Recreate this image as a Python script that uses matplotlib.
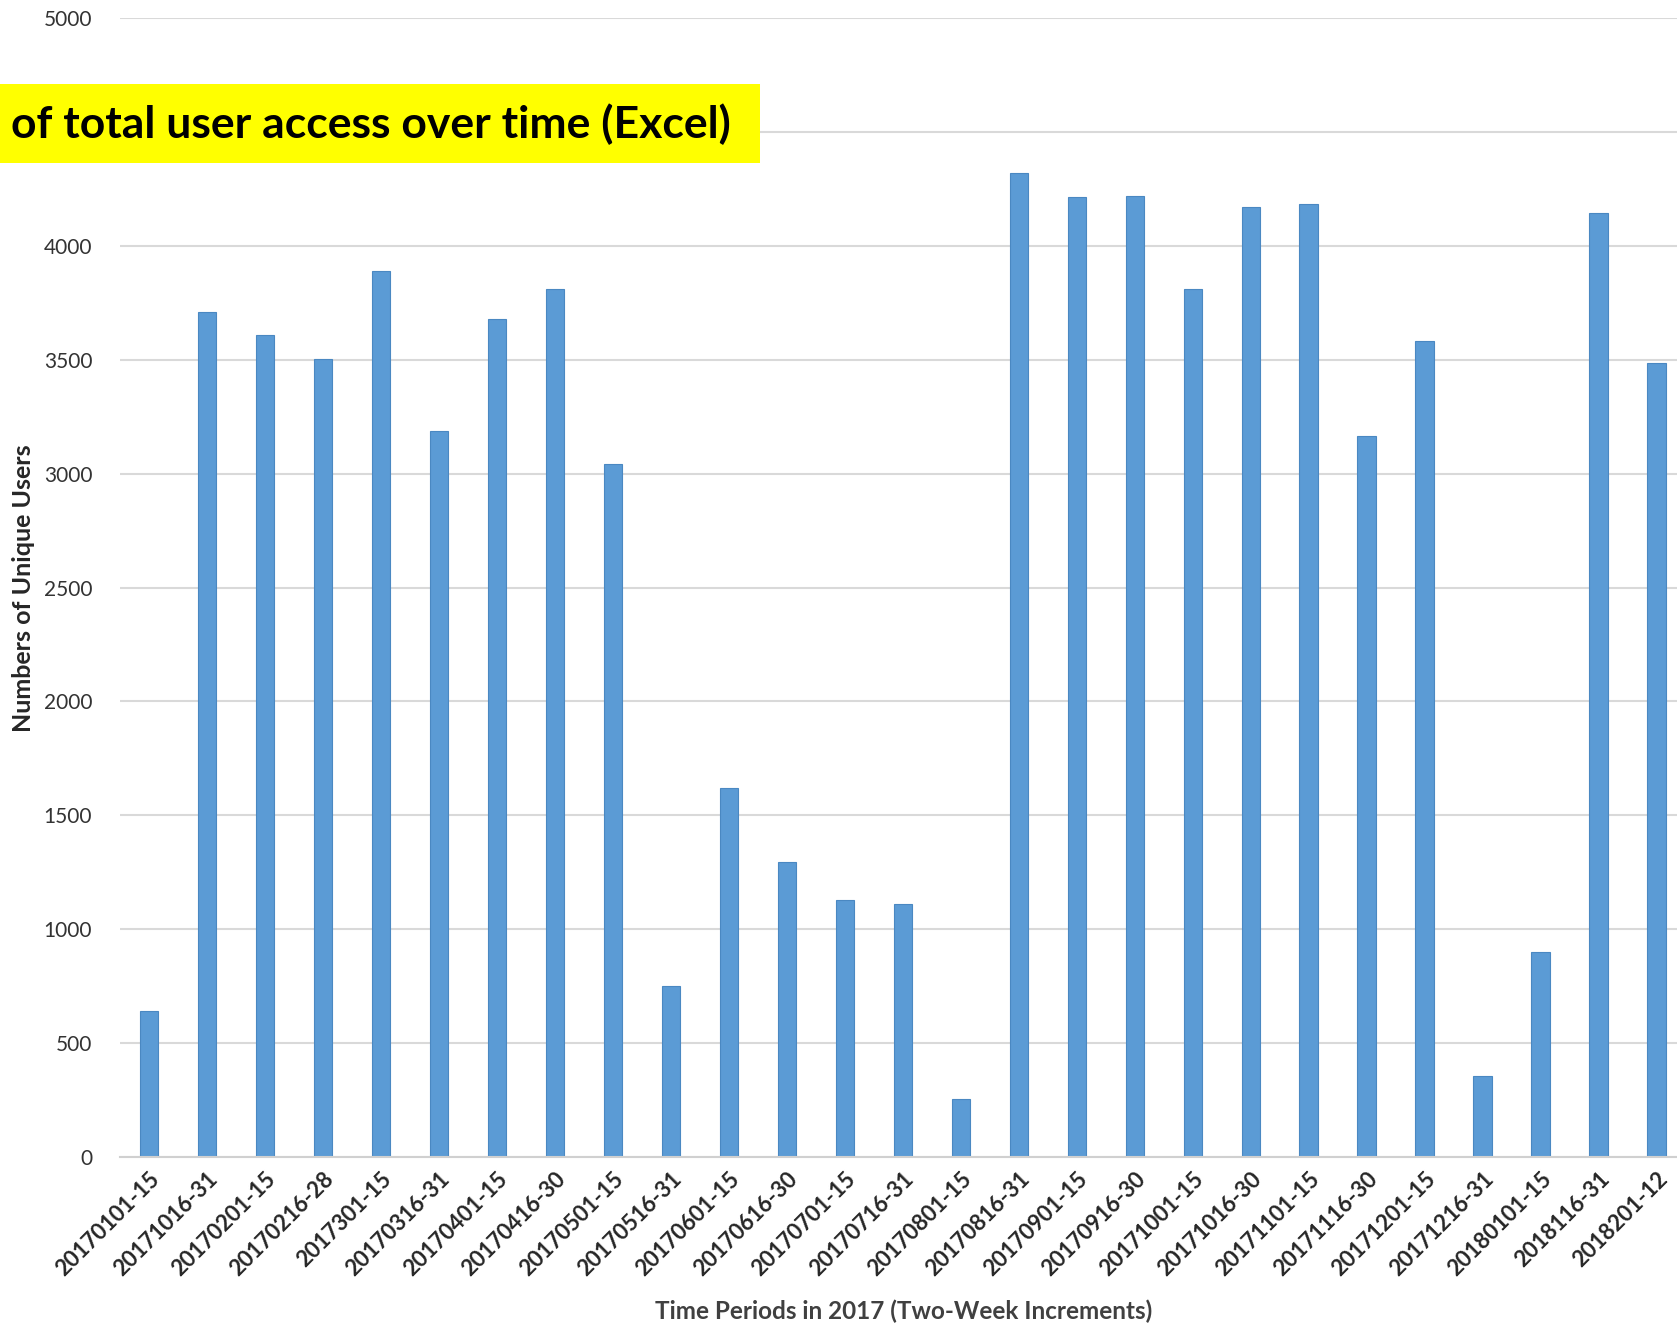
import matplotlib
matplotlib.use('Agg')
import matplotlib.pyplot as plt
from matplotlib.patches import Rectangle

# Two-week periods and unique user counts
periods = ['20170101-15', '20171016-31', '20170201-15', '20170216-28', '2017301-15',
           '20170316-31', '20170401-15', '20170416-30', '20170501-15', '20170516-31',
           '20170601-15', '20170616-30', '20170701-15', '20170716-31', '20170801-15',
           '20170816-31', '20170901-15', '20170916-30', '20171001-15', '20171016-30',
           '20171101-15', '20171116-30', '20171201-15', '20171216-31', '20180101-15',
           '2018116-31', '2018201-12']
users = [640, 3710, 3610, 3505, 3890, 3185, 3680, 3810, 3040, 750,
         1620, 1295, 1130, 1110, 255, 4320, 4215, 4220, 3810, 4170,
         4185, 3165, 3580, 355, 900, 4145, 3485]
y_ticks = [0, 500, 1000, 1500, 2000, 2500, 3000, 3500, 4000, 4500, 5000]
y_tick_labels = ['0', '500', '1000', '1500', '2000', '2500', '3000', '3500', '4000', '', '5000']

title_text = 'of total user access over time (Excel)'

plt.rcParams['font.family'] = ['Lato', 'DejaVu Sans']

W, H = 1677, 1326
fig = plt.figure(figsize=(W / 100, H / 100), dpi=100)
ax = fig.add_axes([120 / W, (H - 1157) / H, (W - 120) / W, (1157 - 18) / H])

x = list(range(len(periods)))
ax.bar(x, users, width=0.32, color='#5b9bd5', edgecolor='#4a88c2', linewidth=0.8, zorder=3)

ax.set_xlim(-0.5, 26.35)
ax.set_ylim(0, 5000)
ax.set_yticks(y_ticks)
ax.set_yticklabels(y_tick_labels, fontsize=15, color='#333333')
ax.set_xticks(x)
ax.set_xticklabels(periods, rotation=45, ha='right', rotation_mode='anchor',
                   fontsize=16, color='#262626', fontweight='bold')
ax.tick_params(axis='both', length=0)
ax.tick_params(axis='y', pad=20)
ax.tick_params(axis='x', pad=8)

ax.grid(axis='y', color='#d9d9d9', linewidth=1.5, zorder=0)
for s in ['top', 'right', 'left']:
    ax.spines[s].set_visible(False)
ax.spines['bottom'].set_color('#d0d0d0')
ax.spines['bottom'].set_linewidth(1.5)
ax.spines['bottom'].set_zorder(4)

fig.text(24 / W, 1 - 588 / H, 'Numbers of Unique Users', rotation=90, ha='center', va='center',
         fontsize=18, fontweight='bold', color='#262626')
fig.text(904 / W, 1 - 1311 / H, 'Time Periods in 2017 (Two-Week Increments)', ha='center',
         va='center', fontsize=17.5, fontweight='bold', color='#404040')

# yellow title banner overlapping the top of the chart
fig.patches.append(Rectangle((0, 1 - 163 / H), 760 / W, 79 / H, transform=fig.transFigure,
                             facecolor='#ffff00', edgecolor='none', zorder=5))
fig.text(11 / W, 1 - 124 / H, title_text, ha='left', va='center', fontsize=32,
         fontweight='bold', color='black', zorder=6)

fig.savefig('out.png', dpi=100)
